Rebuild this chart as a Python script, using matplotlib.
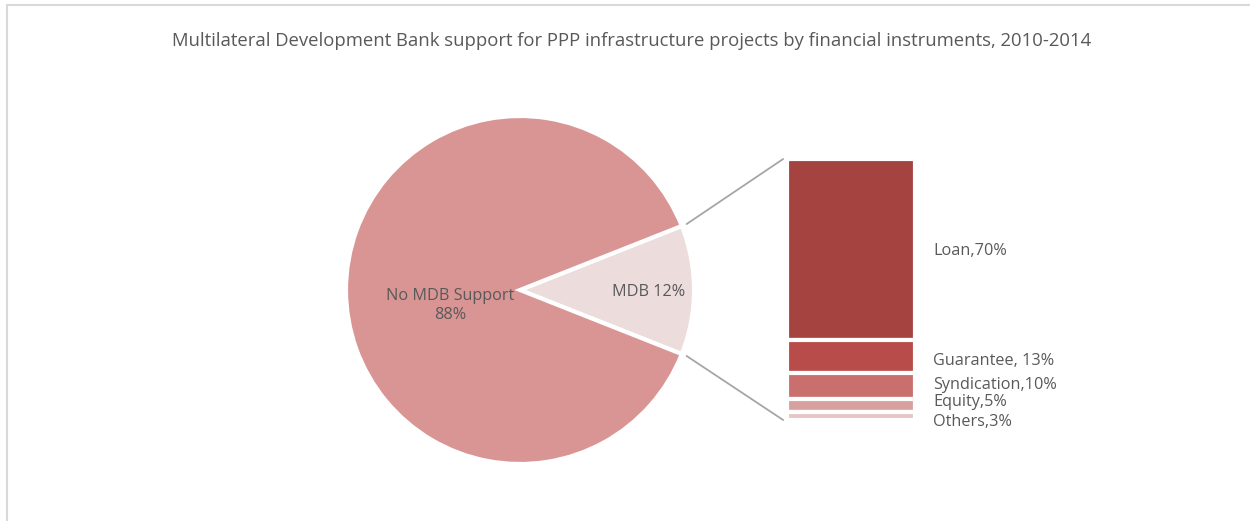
import matplotlib.pyplot as plt
import numpy as np
from matplotlib.patches import ConnectionPatch
from matplotlib.lines import Line2D

plt.rcParams['font.family'] = ['Open Sans', 'DejaVu Sans']

title = 'Multilateral Development Bank support for PPP infrastructure projects by financial instruments, 2010-2014'

pie_labels = ['MDB', 'No MDB Support']
pie_values = [12, 88]

instruments = ['Loan', 'Guarantee', 'Syndication', 'Equity', 'Others']
shares = [70, 13, 10, 5, 3]
share_labels = ['Loan,70%', 'Guarantee, 13%', 'Syndication,10%', 'Equity,5%', 'Others,3%']

text_color = '#595959'
pie_colors = ['#EDDCDC', '#D99594']
bar_colors = ['#A54340', '#B84C4A', '#C9706E', '#D9A0A0', '#E8C4C4']

fig = plt.figure(figsize=(12.5, 5.21), dpi=100)

fig.text(0.5055, 0.921, title, ha='center', va='center', fontsize=13.3, color=text_color)

# pie on the left, MDB slice centred on the right-hand side
ax1 = fig.add_axes([346 / 1250, 57 / 521, 348 / 1250, 348 / 521])
half = pie_values[0] / 100 * 180
wedges, _ = ax1.pie(pie_values, colors=pie_colors, startangle=-half, counterclock=True,
                    radius=1.0, wedgeprops=dict(edgecolor='white', linewidth=3))
ax1.set_xlim(-1, 1)
ax1.set_ylim(-1, 1)
ax1.set_aspect('equal')
ax1.axis('off')

ax1.text(0.74, -0.01, f'{pie_labels[0]} {pie_values[0]}%', ha='center', va='center',
         fontsize=11.7, color=text_color)
ax1.text(-0.40, -0.09, f'{pie_labels[1]}\n{pie_values[1]}%', ha='center', va='center',
         fontsize=11.7, color=text_color, linespacing=1.25)

# stacked bar of the MDB instruments, loan on top
ax2 = fig.add_axes([787 / 1250, 101 / 521, 128 / 1250, 261 / 521])
total = sum(shares)
bottom = total
bar_w = 1.0
mids = []
for name, val, col in zip(instruments, shares, bar_colors):
    bottom -= val
    ax2.bar(0, val, bar_w, bottom=bottom, color=col, edgecolor='white', linewidth=3)
    mids.append(bottom + val / 2)
ax2.set_xlim(-bar_w / 2, bar_w / 2)
ax2.set_ylim(0, total)
ax2.axis('off')

nudges = [-1.4, -2.9, 0.8, 2.4, -4.4]
for lab, y, dy in zip(share_labels, mids, nudges):
    ax2.annotate(lab, xy=(bar_w / 2, y), xytext=(13, dy), textcoords='offset points',
                 ha='left', va='center', fontsize=11.7, color=text_color,
                 annotation_clip=False)

# connector lines from the MDB slice to the bar
theta1, theta2 = np.deg2rad(wedges[0].theta1), np.deg2rad(wedges[0].theta2)
for theta, ybar in [(theta2, total), (theta1, 0)]:
    x0, y0 = 1.03 * np.cos(theta), 1.03 * np.sin(theta)
    con = ConnectionPatch(xyA=(-bar_w / 2 - 0.03, ybar), coordsA=ax2.transData,
                          xyB=(x0, y0), coordsB=ax1.transData,
                          color='#A6A6A6', linewidth=1.3)
    fig.add_artist(con)

# chart frame
fig.add_artist(Line2D([7 / 1250, 1], [1 - 5 / 521, 1 - 5 / 521], color='#D9D9D9', linewidth=1.5))
fig.add_artist(Line2D([7 / 1250, 7 / 1250], [0, 1 - 5 / 521], color='#D9D9D9', linewidth=1.5))

fig.savefig('out.png', dpi=100)
